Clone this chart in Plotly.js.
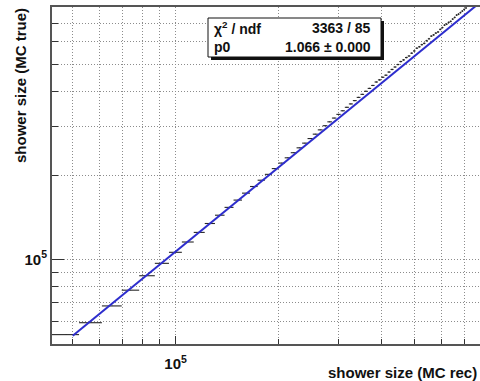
<!DOCTYPE html>
<html>
<head>
<meta charset="utf-8">
<script src="https://cdn.plot.ly/plotly-3.0.1.min.js"></script>
<style>
  html, body { margin: 0; padding: 0; background: #fff; overflow: hidden; }
  #chart { width: 484px; height: 381px; }
</style>
</head>
<body>
<div id="chart"></div>
<script>
// Profile of true vs reconstructed shower size (bins of width 1e6/115)
const binCenter = [
  47826, 56522, 65217, 73913, 82609, 91304, 100000, 108696, 117391, 126087,
  134783, 143478, 152174, 160870, 169565, 178261, 186957, 195652, 204348, 213043,
  221739, 230435, 239130, 247826, 256522, 265217, 273913, 282609, 291304, 300000,
  308696, 317391, 326087, 334783, 343478, 352174, 360870, 369565, 378261, 386957,
  395652, 404348, 413043, 421739, 430435, 439130, 447826, 456522, 465217, 473913,
  482609, 491304, 500000, 508696, 517391, 526087, 534783, 543478, 552174, 560870,
  569565, 578261, 586957, 595652, 604348, 613043, 621739, 630435, 639130, 647826,
  656522, 665217, 673913, 682609, 691304, 700000, 708696
];
const binHalfWidth = 4348;

// Mean true size per bin
const meanTrue = [
  53800, 59350, 68150, 77600, 87400, 96800, 106000, 115400, 124900, 134400,
  143900, 153500, 163000, 172600, 182300, 192000, 201500, 211300, 221100, 230900,
  240800, 250700, 260600, 270600, 280600, 290700, 300800, 310600, 320400, 330300,
  340200, 350100, 360000, 369900, 379900, 389500, 399500, 409100, 419100, 431200,
  438800, 448400, 456100, 468100, 478200, 487900, 498000, 510400, 517300, 527500,
  534300, 546800, 557000, 569800, 576400, 586600, 592900, 606000, 615700, 629400,
  635600, 645300, 651200, 665300, 675100, 689000, 694500, 704800, 710600, 724200,
  734000, 748500, 754100, 763800, 773600, 784000, 793700
];

// Error on the mean per bin
const meanErr = [
  150, 120, 110, 120, 130, 140, 160, 180, 200, 220,
  250, 270, 300, 330, 360, 400, 450, 500, 550, 600,
  650, 700, 760, 820, 880, 940, 1000, 1100, 1200, 1300,
  1400, 1500, 1600, 1700, 1800, 1900, 2000, 2100, 2200, 2400,
  2500, 2600, 2800, 2900, 3000, 3100, 3200, 3300, 3400, 3500,
  3600, 3700, 3800, 3900, 4000, 4100, 4200, 4300, 4400, 4500,
  4600, 4700, 4800, 4900, 5000, 5100, 5200, 5300, 5400, 5500,
  5600, 5700, 5800, 5900, 6000, 6100, 6200
];

// Fit result: y = p0 * x
const p0 = 1.066;
const p0Err = 0.000;
const chi2 = 3363;
const ndf = 85;
const fitRange = [5e4, 8e5];

const xRange = [43478, 8e5];
const yRange = [49800, 8e5];
const xMinorTicks = [5e4, 6e4, 7e4, 8e4, 9e4, 2e5, 3e5, 4e5, 5e5, 6e5, 7e5];
const yMinorTicks = [6e4, 7e4, 8e4, 9e4, 2e5, 3e5, 4e5, 5e5, 6e5, 7e5];
const majorTicks = [1e5];
const majorTickText = ['10<sup>5</sup>'];

const FONT = 'Liberation Sans, Arial, Helvetica, sans-serif';
const GRID = '#8c8c8c';
const GRIDDASH = '1px,2px';

const profile = {
  type: 'scatter',
  mode: 'markers',
  x: binCenter,
  y: meanTrue,
  marker: { size: 1, color: 'rgba(0,0,0,0)' },
  error_x: { type: 'data', symmetric: true, array: binCenter.map(() => binHalfWidth),
             color: '#262626', thickness: 1.1, width: 0 },
  error_y: { type: 'data', symmetric: true, array: meanErr,
             color: '#262626', thickness: 1, width: 0 },
  hoverinfo: 'skip',
  showlegend: false
};

const fitLine = {
  type: 'scatter',
  mode: 'lines',
  x: fitRange,
  y: fitRange.map(v => p0 * v),
  line: { color: 'rgb(45,45,205)', width: 2 },
  hoverinfo: 'skip',
  showlegend: false
};

// pixel helpers for the stats box (plot area: 52..484 x 7..344)
const PL = 52, PW = 432, PT = 7, PH = 337;
const px = v => (v - PL) / PW;
const py = v => (PT + PH - v) / PH;

const axisCommon = {
  type: 'log',
  tickmode: 'array',
  ticks: 'inside',
  tickcolor: '#333',
  tickwidth: 1,
  showgrid: true,
  gridcolor: GRID,
  griddash: GRIDDASH,
  gridwidth: 1,
  showline: true,
  linecolor: '#555',
  linewidth: 2,
  mirror: true,
  zeroline: false,
  tickfont: { family: FONT, size: 15, color: '#111', weight: 'bold' }
};

const layout = {
  width: 484,
  height: 381,
  margin: { l: PL, r: 0, t: PT, b: 381 - PT - PH },
  paper_bgcolor: '#fff',
  plot_bgcolor: '#fff',
  xaxis: Object.assign({}, axisCommon, {
    range: xRange.map(Math.log10),
    tickvals: majorTicks,
    ticktext: majorTickText,
    ticklen: 8,
    ticklabelstandoff: 5,
    minor: { tickvals: xMinorTicks, ticks: 'inside', ticklen: 5, tickcolor: '#333',
             showgrid: true, gridcolor: GRID, griddash: GRIDDASH, gridwidth: 1 }
  }),
  yaxis: Object.assign({}, axisCommon, {
    range: yRange.map(Math.log10),
    tickvals: majorTicks,
    ticktext: majorTickText,
    ticklen: 12,
    minor: { tickvals: yMinorTicks, ticks: 'inside', ticklen: 6, tickcolor: '#333',
             showgrid: true, gridcolor: GRID, griddash: GRIDDASH, gridwidth: 1 }
  }),
  shapes: [
    { type: 'rect', xref: 'paper', yref: 'paper',
      x0: px(211), x1: px(384), y0: py(60), y1: py(21),
      fillcolor: '#111', line: { width: 0 } },
    { type: 'rect', xref: 'paper', yref: 'paper',
      x0: px(208), x1: px(381), y0: py(57), y1: py(18),
      fillcolor: '#fff', line: { color: '#111', width: 1 } }
  ],
  annotations: [
    { text: 'shower size (MC true)', xref: 'paper', yref: 'paper',
      x: px(20), y: py(86), xanchor: 'center', yanchor: 'middle', textangle: -90,
      showarrow: false, font: { family: FONT, size: 15, color: '#111', weight: 'bold' } },
    { text: 'shower size (MC rec)', xref: 'paper', yref: 'paper',
      x: px(479), y: py(372), xanchor: 'right', yanchor: 'middle',
      showarrow: false, font: { family: FONT, size: 15, color: '#111', weight: 'bold' } },
    { text: '\u03c7<sup>2</sup> / ndf', xref: 'paper', yref: 'paper',
      x: px(212), y: py(28), xanchor: 'left', yanchor: 'middle',
      showarrow: false, font: { family: FONT, size: 14, color: '#111', weight: 'bold' } },
    { text: chi2 + ' / ' + ndf, xref: 'paper', yref: 'paper',
      x: px(373), y: py(28), xanchor: 'right', yanchor: 'middle',
      showarrow: false, font: { family: FONT, size: 14, color: '#111', weight: 'bold' } },
    { text: 'p0', xref: 'paper', yref: 'paper',
      x: px(212), y: py(47), xanchor: 'left', yanchor: 'middle',
      showarrow: false, font: { family: FONT, size: 14, color: '#111', weight: 'bold' } },
    { text: p0.toFixed(3) + ' \u00b1 ' + p0Err.toFixed(3), xref: 'paper', yref: 'paper',
      x: px(373), y: py(47), xanchor: 'right', yanchor: 'middle',
      showarrow: false, font: { family: FONT, size: 14, color: '#111', weight: 'bold' } }
  ]
};

Plotly.newPlot('chart', [profile, fitLine], layout, { staticPlot: true, displayModeBar: false });
</script>
</body>
</html>
